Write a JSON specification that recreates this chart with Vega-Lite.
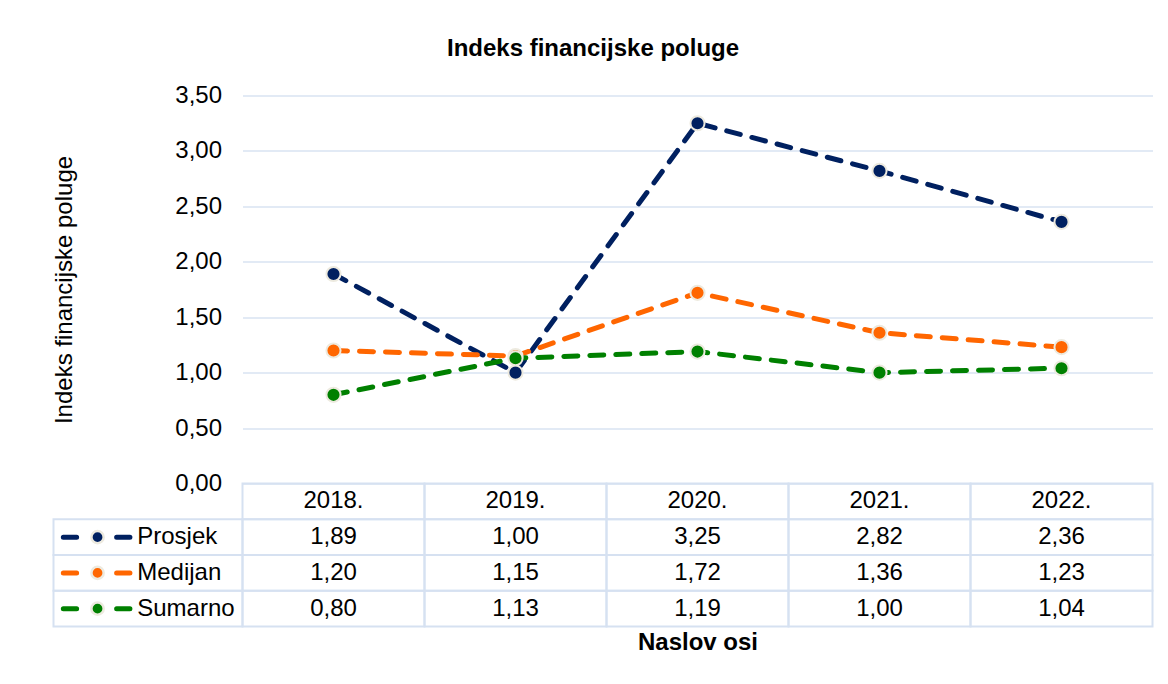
{
  "$schema": "https://vega.github.io/schema/vega-lite/v6.json",
  "width": 910,
  "height": 531,
  "autosize": {"type": "none"},
  "padding": {"left": 242.5, "top": 95.5, "right": 15.5, "bottom": 57.5},
  "background": "#ffffff",
  "config": {
    "view": {"stroke": null},
    "font": "Liberation Sans",
    "locale": {"number": {"decimal": ",", "thousands": ".", "grouping": [3], "currency": ["", " €"]}}
  },
  "title": {"text": "Indeks financijske poluge", "fontSize": 24, "fontWeight": "bold", "color": "#000000", "anchor": "middle", "frame": "bounds", "offset": 23, "dx": -10},
  "data": {"values": [
    {"year": "2018.", "series": "Prosjek", "value": 1.89},
    {"year": "2019.", "series": "Prosjek", "value": 1.00},
    {"year": "2020.", "series": "Prosjek", "value": 3.25},
    {"year": "2021.", "series": "Prosjek", "value": 2.82},
    {"year": "2022.", "series": "Prosjek", "value": 2.36},
    {"year": "2018.", "series": "Medijan", "value": 1.20},
    {"year": "2019.", "series": "Medijan", "value": 1.15},
    {"year": "2020.", "series": "Medijan", "value": 1.72},
    {"year": "2021.", "series": "Medijan", "value": 1.36},
    {"year": "2022.", "series": "Medijan", "value": 1.23},
    {"year": "2018.", "series": "Sumarno", "value": 0.80},
    {"year": "2019.", "series": "Sumarno", "value": 1.13},
    {"year": "2020.", "series": "Sumarno", "value": 1.19},
    {"year": "2021.", "series": "Sumarno", "value": 1.00},
    {"year": "2022.", "series": "Sumarno", "value": 1.04}
  ]},
  "resolve": {"scale": {"x": "independent", "y": "independent"}},
  "layer": [
    {
      "layer": [
        {
          "mark": {"type": "rect", "fill": "#ffffff", "fillOpacity": 0, "stroke": "#D6E1F1", "strokeWidth": 2},
          "encoding": {
            "x": {"field": "year", "type": "nominal", "scale": {"paddingInner": 0, "paddingOuter": 0},
                  "axis": {"orient": "bottom", "labels": false, "ticks": false, "domain": false, "grid": false, "title": "Naslov osi", "titleFontSize": 24, "titleFontWeight": "bold", "titleColor": "#000000", "titlePadding": 4}},
            "y": {"field": "series", "type": "nominal", "scale": {"domain": ["header", "Prosjek", "Medijan", "Sumarno"], "range": [388, 531], "paddingInner": 0, "paddingOuter": 0}, "axis": null}
          }
        },
        {
          "transform": [{"filter": "datum.series === 'Prosjek'"}],
          "mark": {"type": "rect", "fill": "#ffffff", "fillOpacity": 0, "stroke": "#D6E1F1", "strokeWidth": 2},
          "encoding": {
            "x": {"field": "year", "type": "nominal"},
            "y": {"datum": "header", "type": "nominal"}
          }
        },
        {
          "mark": {"type": "text", "fontSize": 24, "color": "#000000", "baseline": "middle", "align": "center"},
          "encoding": {
            "x": {"field": "year", "type": "nominal"},
            "y": {"field": "series", "type": "nominal"},
            "text": {"field": "value", "type": "quantitative", "format": ".2f"}
          }
        },
        {
          "transform": [{"filter": "datum.series === 'Prosjek'"}],
          "mark": {"type": "text", "fontSize": 24, "color": "#000000", "baseline": "middle", "align": "center"},
          "encoding": {
            "x": {"field": "year", "type": "nominal"},
            "y": {"datum": "header", "type": "nominal"},
            "text": {"field": "year", "type": "nominal"}
          }
        }
      ]
    },
    {
      "transform": [{"filter": "datum.year === '2018.'"}],
      "layer": [
        {
          "mark": {"type": "rect", "fill": "#ffffff", "fillOpacity": 0, "stroke": "#D6E1F1", "strokeWidth": 2},
          "encoding": {
            "x": {"datum": 0, "type": "quantitative", "scale": {"domain": [0, 1], "range": [-189, 0], "nice": false, "zero": false}, "axis": null},
            "x2": {"datum": 1},
            "y": {"field": "series", "type": "nominal", "scale": {"domain": ["header", "Prosjek", "Medijan", "Sumarno"], "range": [388, 531], "paddingInner": 0, "paddingOuter": 0}, "axis": null}
          }
        },
        {
          "mark": {"type": "rule", "strokeWidth": 5, "strokeDash": [13.3, 40], "strokeCap": "round"},
          "encoding": {
            "x": {"datum": 0.052, "type": "quantitative"},
            "x2": {"datum": 0.407},
            "y": {"field": "series", "type": "nominal"},
            "color": {"field": "series", "type": "nominal", "scale": {"domain": ["Prosjek", "Medijan", "Sumarno"], "range": ["#002060", "#FF6600", "#008000"]}, "legend": null}
          }
        },
        {
          "mark": {"type": "point", "filled": true, "size": 150, "stroke": "#EDEADF", "strokeWidth": 2.5, "opacity": 1},
          "encoding": {
            "x": {"datum": 0.233, "type": "quantitative"},
            "y": {"field": "series", "type": "nominal"},
            "color": {"field": "series", "type": "nominal", "legend": null}
          }
        },
        {
          "mark": {"type": "text", "fontSize": 24, "color": "#000000", "baseline": "middle", "align": "left"},
          "encoding": {
            "x": {"datum": 0.443, "type": "quantitative"},
            "y": {"field": "series", "type": "nominal"},
            "text": {"field": "series", "type": "nominal"}
          }
        }
      ]
    },
    {
      "layer": [
        {
          "mark": {"type": "line", "strokeWidth": 5, "strokeDash": [14, 12], "strokeCap": "round", "strokeJoin": "round"},
          "encoding": {
            "x": {"field": "year", "type": "nominal", "scale": {"paddingInner": 0, "paddingOuter": 0}, "axis": null},
            "y": {"field": "value", "type": "quantitative", "scale": {"domain": [0, 3.5], "range": [388, 0], "nice": false},
                  "axis": {"orient": "left", "values": [0, 0.5, 1, 1.5, 2, 2.5, 3, 3.5], "format": ".2f", "grid": true, "gridColor": "#D9E3F2", "gridWidth": 1.5, "domain": false, "ticks": false, "labelPadding": 21, "labelFontSize": 24, "labelColor": "#000000", "title": "Indeks financijske poluge", "titleFontSize": 24, "titleFontWeight": "normal", "titleColor": "#000000", "titlePadding": 98}},
            "color": {"field": "series", "type": "nominal", "scale": {"domain": ["Prosjek", "Medijan", "Sumarno"], "range": ["#002060", "#FF6600", "#008000"]}, "legend": null},
            "order": {"field": "year", "type": "nominal"}
          }
        },
        {
          "mark": {"type": "point", "filled": true, "size": 200, "stroke": "#EDEADF", "strokeWidth": 2, "opacity": 1},
          "encoding": {
            "x": {"field": "year", "type": "nominal"},
            "y": {"field": "value", "type": "quantitative"},
            "color": {"field": "series", "type": "nominal", "legend": null}
          }
        }
      ]
    }
  ]
}
